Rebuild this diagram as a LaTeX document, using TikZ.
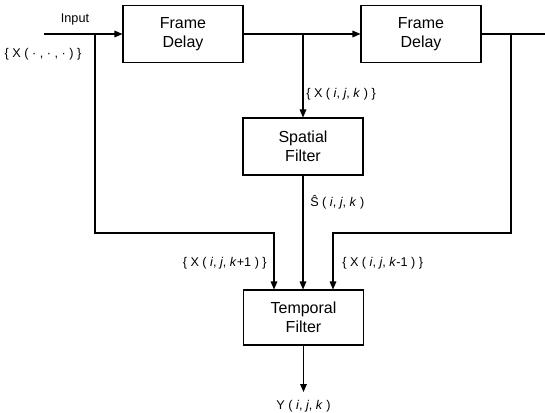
\documentclass[tikz,border=0pt]{standalone}
\usepackage{fontspec}
\setmainfont{Liberation Sans}
\usetikzlibrary{arrows.meta}

\tikzset{
  blockbox/.style={draw, line width=0.8pt, minimum width=120*0.75pt, minimum height=57*0.75pt, inner sep=0.75pt, align=center, font=\fontsize{12}{14}\selectfont},
  sig/.style={font=\fontsize{9.5}{11}\selectfont, inner sep=0.75pt},
  wire/.style={line width=0.8pt},
  feed/.style={wire, -{Triangle[length=6pt,width=5pt]}}
}

\begin{document}
\begin{tikzpicture}[x=0.75pt,y=0.75pt,yscale=-1,xscale=1]
\path[use as bounding box] (0,0) rectangle (545,413);

% Blocks
\node[blockbox] (delayA) at (183,34) {Frame\\Delay};
\node[blockbox] (delayB) at (421,34) {Frame\\Delay};
\node[blockbox] (spatial) at (303,146.5) {Spatial\\Filter};
\node[blockbox, minimum height=55*0.75pt] (temporal) at (303.5,317.5) {Temporal\\Filter};

% Branch points
\coordinate (inp) at (44,34);
\coordinate (tapA) at (95,34);
\coordinate (tapB) at (303,34);
\coordinate (tapC) at (511,34);
\coordinate (outp) at (545,34);
\coordinate (cornA) at (274,233);
\coordinate (cornC) at (333,233);

% Text Node
\node[sig] (inlabel) at (75,19) {Input};
% Text Node
\node[sig] (xall) at (43,54) {\{ X ( · , · , · ) \}};
% Text Node
\node[sig, anchor=west] (xk) at (305,94) {\{ X ( \textit{i}, \textit{j}, \textit{k} ) \}};
% Text Node
\node[sig, anchor=west] (shat) at (309,202) {\^{S} ( \textit{i}, \textit{j}, \textit{k} )};
% Text Node
\node[sig, anchor=east] (xnext) at (268,263) {\{ X ( \textit{i}, \textit{j}, \textit{k}+1 ) \}};
% Text Node
\node[sig, anchor=west] (xprev) at (341,263) {\{ X ( \textit{i}, \textit{j}, \textit{k}-1 ) \}};
% Text Node
\node[sig] (yout) at (303.5,406) {Y ( \textit{i}, \textit{j}, \textit{k} )};

% Connectors
\draw[feed] (inp) -- (delayA);
\draw[feed] (delayA) -- (delayB);
\draw[wire] (delayB) -- (outp);
\draw[feed] (tapB) -- (spatial);
\draw[feed] (spatial) -- (spatial.south |- temporal.north);
\draw[feed] (tapA) |- (cornA) -- (cornA |- temporal.north);
\draw[feed] (tapC) |- (cornC) -- (cornC |- temporal.north);
\draw[feed] (temporal) -- (temporal.south |- 0,392);

\end{tikzpicture}
\end{document}
